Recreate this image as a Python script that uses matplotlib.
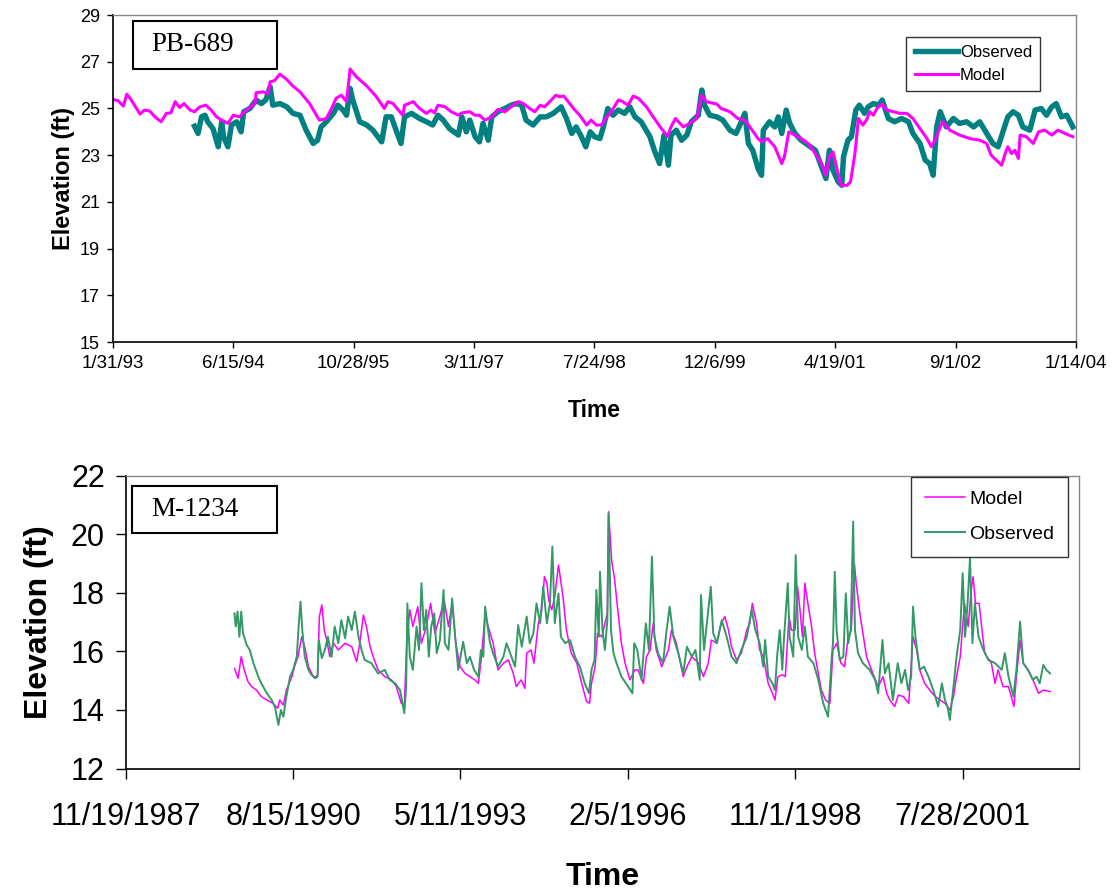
"""Water levels at two wells: simulated heads against measured heads.

Upper panel PB-689 (1993-2004), lower panel M-1234 (1989-2003).
Times are held as decimal years and turned into dates before plotting.
"""

from datetime import datetime, timedelta

import matplotlib

matplotlib.use("Agg")
import matplotlib.pyplot as plt
from matplotlib.patches import Rectangle

# ---- PB-689 -------------------------------------------------------------
PB_MODEL_T = [
    1993.08, 1993.14, 1993.20, 1993.24, 1993.29, 1993.35, 1993.39, 1993.44, 1993.50, 1993.56,
    1993.63, 1993.69, 1993.74, 1993.79, 1993.84, 1993.89, 1993.96, 1994.01, 1994.07, 1994.14,
    1994.20, 1994.26, 1994.32, 1994.39, 1994.45, 1994.52, 1994.60, 1994.66, 1994.70, 1994.71,
    1994.79, 1994.85, 1994.87, 1994.92, 1994.98, 1995.06, 1995.13, 1995.21, 1995.32, 1995.43,
    1995.51, 1995.57, 1995.62, 1995.68, 1995.74, 1995.78, 1995.85, 1995.97, 1996.08, 1996.17,
    1996.21, 1996.27, 1996.33, 1996.38, 1996.40, 1996.50, 1996.57, 1996.65, 1996.70, 1996.74,
    1996.78, 1996.86, 1996.93, 1997.01, 1997.05, 1997.14, 1997.20, 1997.25, 1997.31, 1997.39,
    1997.46, 1997.54, 1997.61, 1997.69, 1997.75, 1997.82, 1997.88, 1997.94, 1997.99, 1998.05,
    1998.12, 1998.16, 1998.21, 1998.26, 1998.32, 1998.39, 1998.47, 1998.52, 1998.58, 1998.64,
    1998.70, 1998.75, 1998.83, 1998.88, 1998.94, 1999.00, 1999.06, 1999.15, 1999.24, 1999.32,
    1999.39, 1999.43, 1999.48, 1999.57, 1999.64, 1999.72, 1999.78, 1999.83, 1999.95, 2000.00,
    2000.10, 2000.19, 2000.27, 2000.34, 2000.42, 2000.46, 2000.53, 2000.61, 2000.69, 2000.72,
    2000.77, 2000.84, 2000.91, 2000.99, 2001.07, 2001.14, 2001.19, 2001.23, 2001.27, 2001.31,
    2001.36, 2001.43, 2001.47, 2001.52, 2001.56, 2001.61, 2001.65, 2001.69, 2001.73, 2001.77,
    2001.83, 2001.88, 2001.96, 2002.03, 2002.11, 2002.18, 2002.26, 2002.34, 2002.39, 2002.45,
    2002.49, 2002.52, 2002.60, 2002.71, 2002.83, 2002.94, 2003.02, 2003.07, 2003.15, 2003.19,
    2003.23, 2003.26, 2003.30, 2003.34, 2003.38, 2003.40, 2003.47, 2003.55, 2003.61, 2003.68,
    2003.76, 2003.83, 2003.91, 2004.00,
]
PB_MODEL_H = [
    25.39, 25.33, 25.10, 25.61, 25.36, 25.00, 24.76, 24.93, 24.89, 24.64,
    24.43, 24.79, 24.81, 25.29, 25.04, 25.21, 24.93, 24.86, 25.07, 25.14,
    24.93, 24.64, 24.50, 24.36, 24.71, 24.64, 24.93, 25.10, 25.21, 25.67,
    25.71, 25.64, 26.14, 26.19, 26.47, 26.24, 25.96, 25.71, 25.21, 24.50,
    24.57, 25.00, 25.43, 25.57, 25.29, 26.69, 26.36, 25.96, 25.50, 25.00,
    25.29, 25.21, 24.93, 24.71, 25.14, 25.29, 25.00, 24.79, 24.93, 24.81,
    25.14, 25.07, 24.86, 24.71, 24.81, 24.86, 24.71, 24.71, 24.50, 24.64,
    24.96, 24.86, 25.07, 25.29, 25.21, 25.00, 24.86, 25.14, 25.07, 25.29,
    25.57, 25.50, 25.53, 25.29, 25.00, 24.71, 24.29, 24.50, 24.29, 24.29,
    24.64, 24.86, 25.36, 25.29, 25.14, 25.53, 25.43, 25.07, 24.57, 24.14,
    23.81, 24.21, 24.57, 24.21, 24.36, 24.57, 25.57, 25.29, 25.19, 25.00,
    24.86, 24.57, 24.50, 24.14, 23.71, 23.57, 23.71, 23.36, 22.64, 22.93,
    24.00, 23.86, 23.71, 23.50, 23.07, 22.64, 22.14, 22.93, 23.14, 22.50,
    21.71, 21.71, 21.86, 23.07, 24.57, 24.29, 24.50, 24.86, 24.71, 25.00,
    25.19, 24.93, 24.86, 24.79, 24.79, 24.57, 24.14, 23.71, 23.36, 23.79,
    24.21, 24.43, 24.07, 23.86, 23.71, 23.64, 23.50, 23.00, 22.71, 22.57,
    23.07, 23.36, 23.07, 23.21, 22.86, 23.86, 23.79, 23.50, 24.00, 24.07,
    23.86, 24.07, 23.93, 23.79,
]
PB_OBS_T = [
    1994.01, 1994.05, 1994.09, 1994.13, 1994.16, 1994.22, 1994.28, 1994.32, 1994.34, 1994.39,
    1994.43, 1994.49, 1994.54, 1994.57, 1994.64, 1994.71, 1994.77, 1994.82, 1994.87, 1994.90,
    1994.98, 1995.06, 1995.13, 1995.21, 1995.28, 1995.36, 1995.41, 1995.45, 1995.51, 1995.59,
    1995.64, 1995.70, 1995.74, 1995.78, 1995.81, 1995.89, 1995.97, 1996.04, 1996.14, 1996.19,
    1996.25, 1996.31, 1996.36, 1996.40, 1996.48, 1996.57, 1996.65, 1996.72, 1996.78, 1996.84,
    1996.91, 1997.01, 1997.05, 1997.10, 1997.14, 1997.20, 1997.25, 1997.29, 1997.35, 1997.39,
    1997.46, 1997.54, 1997.61, 1997.67, 1997.73, 1997.78, 1997.86, 1997.94, 1998.01, 1998.09,
    1998.18, 1998.24, 1998.30, 1998.35, 1998.41, 1998.46, 1998.51, 1998.56, 1998.62, 1998.66,
    1998.71, 1998.77, 1998.83, 1998.90, 1998.96, 1999.02, 1999.09, 1999.19, 1999.24, 1999.30,
    1999.35, 1999.40, 1999.43, 1999.49, 1999.55, 1999.61, 1999.66, 1999.74, 1999.78, 1999.81,
    1999.87, 1999.95, 2000.02, 2000.10, 2000.17, 2000.23, 2000.27, 2000.31, 2000.36, 2000.42,
    2000.46, 2000.48, 2000.55, 2000.61, 2000.65, 2000.69, 2000.74, 2000.78, 2000.84, 2000.91,
    2000.99, 2001.07, 2001.14, 2001.19, 2001.23, 2001.27, 2001.33, 2001.37, 2001.39, 2001.44,
    2001.48, 2001.53, 2001.57, 2001.63, 2001.67, 2001.73, 2001.79, 2001.83, 2001.90, 2001.97,
    2002.05, 2002.13, 2002.18, 2002.26, 2002.32, 2002.37, 2002.41, 2002.45, 2002.49, 2002.56,
    2002.64, 2002.71, 2002.79, 2002.87, 2002.94, 2003.02, 2003.09, 2003.15, 2003.21, 2003.26,
    2003.32, 2003.38, 2003.43, 2003.51, 2003.57, 2003.64, 2003.70, 2003.76, 2003.81, 2003.87,
    2003.93, 2004.00,
]
PB_OBS_H = [
    24.24, 23.93, 24.64, 24.71, 24.43, 24.14, 23.36, 24.43, 23.79, 23.36,
    24.29, 24.43, 24.00, 24.86, 25.00, 25.36, 25.21, 25.36, 25.93, 25.14,
    25.21, 25.07, 24.79, 24.71, 24.07, 23.50, 23.64, 24.21, 24.43, 24.79,
    25.14, 24.93, 24.71, 25.86, 25.36, 24.43, 24.29, 24.07, 23.57, 24.64,
    24.64, 24.00, 23.50, 24.64, 24.79, 24.57, 24.43, 24.29, 24.71, 24.50,
    24.14, 23.86, 24.64, 24.00, 24.50, 23.79, 23.57, 24.36, 23.64, 24.64,
    24.86, 25.00, 25.14, 25.21, 25.14, 24.50, 24.29, 24.64, 24.64, 24.79,
    25.07, 24.57, 23.93, 24.21, 23.79, 23.36, 24.00, 23.79, 23.71, 24.21,
    25.00, 24.71, 24.93, 24.79, 25.07, 24.64, 24.43, 23.79, 23.21, 22.64,
    23.86, 22.57, 23.86, 24.07, 23.64, 23.86, 24.43, 24.71, 25.79, 25.14,
    24.71, 24.64, 24.50, 24.07, 23.93, 24.43, 24.79, 23.50, 23.21, 22.43,
    22.14, 24.07, 24.43, 24.21, 24.64, 23.93, 24.93, 24.36, 23.93, 23.64,
    23.43, 23.21, 22.50, 22.00, 23.21, 22.36, 21.86, 21.71, 22.93, 23.64,
    23.79, 24.93, 25.14, 24.79, 25.07, 25.21, 25.14, 25.36, 24.57, 24.43,
    24.57, 24.43, 23.93, 23.50, 22.79, 22.64, 22.14, 24.21, 24.86, 24.21,
    24.57, 24.36, 24.43, 24.21, 24.43, 23.93, 23.50, 23.36, 24.07, 24.64,
    24.86, 24.71, 24.21, 24.07, 24.93, 25.00, 24.71, 25.07, 25.21, 24.64,
    24.71, 24.21,
]
PB_TICKS = ["1/31/93", "6/15/94", "10/28/95", "3/11/97", "7/24/98",
            "12/6/99", "4/19/01", "9/1/02", "1/14/04"]
PB_YTICKS = [15, 17, 19, 21, 23, 25, 27, 29]

# ---- M-1234 -------------------------------------------------------------
M_MODEL_T = [
    1989.66, 1989.72, 1989.77, 1989.82, 1989.88, 1989.94, 1990.02, 1990.10, 1990.19, 1990.29,
    1990.37, 1990.40, 1990.46, 1990.51, 1990.60, 1990.65, 1990.70, 1990.76, 1990.81, 1990.87,
    1990.95, 1991.02, 1991.05, 1991.09, 1991.13, 1991.17, 1991.22, 1991.28, 1991.36, 1991.47,
    1991.58, 1991.66, 1991.71, 1991.77, 1991.82, 1991.88, 1991.93, 1992.01, 1992.12, 1992.23,
    1992.31, 1992.39, 1992.44, 1992.48, 1992.53, 1992.58, 1992.66, 1992.72, 1992.80, 1992.87,
    1992.94, 1993.02, 1993.09, 1993.16, 1993.22, 1993.28, 1993.35, 1993.43, 1993.51, 1993.59,
    1993.65, 1993.70, 1993.76, 1993.81, 1993.89, 1993.97, 1994.06, 1994.14, 1994.22, 1994.27,
    1994.35, 1994.41, 1994.44, 1994.51, 1994.56, 1994.63, 1994.68, 1994.73, 1994.77, 1994.80,
    1994.85, 1994.90, 1994.96, 1994.98, 1995.04, 1995.09, 1995.17, 1995.26, 1995.34, 1995.42,
    1995.47, 1995.50, 1995.56, 1995.60, 1995.67, 1995.72, 1995.76, 1995.78, 1995.83, 1995.88,
    1995.93, 1995.99, 1996.05, 1996.13, 1996.21, 1996.26, 1996.35, 1996.40, 1996.46, 1996.51,
    1996.56, 1996.65, 1996.76, 1996.81, 1996.89, 1997.00, 1997.06, 1997.14, 1997.25, 1997.33,
    1997.41, 1997.46, 1997.55, 1997.62, 1997.68, 1997.74, 1997.79, 1997.87, 1997.95, 1998.04,
    1998.09, 1998.13, 1998.20, 1998.25, 1998.31, 1998.39, 1998.46, 1998.50, 1998.55, 1998.62,
    1998.67, 1998.73, 1998.77, 1998.83, 1998.87, 1998.91, 1998.95, 1998.99, 1999.04, 1999.10,
    1999.15, 1999.21, 1999.26, 1999.33, 1999.40, 1999.45, 1999.51, 1999.58, 1999.64, 1999.70,
    1999.75, 1999.80, 1999.83, 1999.89, 1999.94, 2000.00, 2000.08, 2000.19, 2000.27, 2000.33,
    2000.38, 2000.46, 2000.52, 2000.60, 2000.69, 2000.76, 2000.82, 2000.87, 2000.95, 2001.03,
    2001.12, 2001.20, 2001.28, 2001.36, 2001.42, 2001.47, 2001.53, 2001.60, 2001.66, 2001.71,
    2001.74, 2001.78, 2001.84, 2001.88, 2001.93, 2002.04, 2002.10, 2002.15, 2002.23, 2002.32,
    2002.41, 2002.45, 2002.51, 2002.56, 2002.64, 2002.72, 2002.81, 2002.89, 2003.00,
]
M_MODEL_H = [
    15.42, 15.08, 15.82, 15.37, 14.97, 14.80, 14.68, 14.46, 14.34, 14.23,
    14.06, 14.34, 14.17, 14.68, 15.14, 15.54, 15.82, 16.50, 16.16, 15.48,
    15.14, 15.14, 17.19, 17.59, 16.73, 16.39, 15.82, 16.28, 16.05, 16.28,
    16.16, 15.65, 16.28, 17.24, 16.85, 16.16, 15.82, 15.37, 15.14, 15.03,
    14.80, 14.23, 14.17, 16.28, 17.42, 16.85, 17.53, 16.28, 16.85, 17.64,
    16.62, 17.19, 17.76, 16.85, 17.64, 16.28, 15.48, 15.25, 15.14, 15.03,
    14.91, 15.82, 17.30, 16.85, 16.28, 15.37, 15.60, 15.71, 15.25, 14.80,
    15.03, 14.74, 15.94, 16.05, 15.60, 16.96, 17.30, 18.55, 18.33, 17.76,
    17.42, 17.87, 18.95, 18.67, 17.76, 16.73, 15.94, 15.60, 14.91, 14.29,
    14.23, 14.91, 15.48, 16.62, 16.50, 16.96, 17.30, 20.77, 19.12, 18.44,
    17.42, 16.28, 15.60, 15.03, 15.37, 15.37, 14.91, 15.82, 16.05, 16.96,
    16.05, 15.48, 16.05, 16.73, 16.28, 15.14, 15.48, 15.82, 15.60, 15.14,
    15.60, 16.39, 16.28, 16.96, 17.19, 16.73, 16.16, 15.71, 15.94, 16.73,
    16.96, 17.64, 16.96, 16.05, 15.82, 14.91, 14.57, 14.34, 15.14, 15.20,
    15.14, 17.19, 16.73, 16.73, 18.21, 17.42, 16.50, 18.33, 17.64, 16.85,
    15.94, 15.25, 14.68, 14.34, 14.23, 16.05, 16.28, 15.60, 15.48, 16.50,
    16.73, 19.01, 18.33, 17.30, 16.62, 15.82, 15.37, 14.80, 15.14, 14.57,
    14.34, 14.12, 14.51, 14.46, 14.23, 16.50, 16.05, 15.37, 14.91, 14.68,
    14.46, 14.34, 14.23, 14.00, 14.46, 15.14, 15.82, 17.64, 16.85, 18.10,
    18.55, 17.64, 17.64, 16.85, 15.94, 15.60, 14.91, 15.37, 14.80, 14.80,
    14.12, 15.14, 16.39, 15.60, 15.37, 15.03, 14.57, 14.68, 14.63,
]
M_OBS_T = [
    1989.66, 1989.68, 1989.71, 1989.74, 1989.77, 1989.80, 1989.86, 1989.91, 1989.97, 1990.05,
    1990.10, 1990.19, 1990.27, 1990.32, 1990.38, 1990.42, 1990.46, 1990.51, 1990.57, 1990.62,
    1990.68, 1990.71, 1990.74, 1990.77, 1990.81, 1990.87, 1990.92, 1990.98, 1991.02, 1991.04,
    1991.09, 1991.14, 1991.19, 1991.25, 1991.30, 1991.36, 1991.41, 1991.47, 1991.52, 1991.58,
    1991.63, 1991.69, 1991.74, 1991.79, 1991.90, 1992.01, 1992.12, 1992.20, 1992.29, 1992.37,
    1992.44, 1992.47, 1992.49, 1992.53, 1992.58, 1992.64, 1992.68, 1992.72, 1992.76, 1992.80,
    1992.84, 1992.88, 1992.93, 1992.97, 1993.02, 1993.08, 1993.10, 1993.16, 1993.22, 1993.27,
    1993.32, 1993.40, 1993.46, 1993.51, 1993.58, 1993.65, 1993.69, 1993.73, 1993.76, 1993.80,
    1993.84, 1993.89, 1993.97, 1994.06, 1994.11, 1994.17, 1994.25, 1994.30, 1994.36, 1994.44,
    1994.49, 1994.55, 1994.60, 1994.66, 1994.71, 1994.77, 1994.82, 1994.86, 1994.90, 1994.96,
    1995.00, 1995.07, 1995.15, 1995.23, 1995.31, 1995.39, 1995.46, 1995.50, 1995.55, 1995.58,
    1995.62, 1995.64, 1995.68, 1995.72, 1995.76, 1995.78, 1995.82, 1995.86, 1995.91, 1995.99,
    1996.10, 1996.17, 1996.20, 1996.25, 1996.32, 1996.39, 1996.44, 1996.49, 1996.53, 1996.59,
    1996.67, 1996.73, 1996.78, 1996.84, 1996.92, 1997.00, 1997.06, 1997.14, 1997.20, 1997.27,
    1997.29, 1997.34, 1997.41, 1997.45, 1997.49, 1997.55, 1997.63, 1997.71, 1997.79, 1997.87,
    1997.95, 1998.04, 1998.12, 1998.18, 1998.25, 1998.31, 1998.34, 1998.39, 1998.46, 1998.50,
    1998.54, 1998.58, 1998.62, 1998.65, 1998.71, 1998.74, 1998.80, 1998.84, 1998.88, 1998.94,
    1998.99, 1999.04, 1999.13, 1999.21, 1999.29, 1999.37, 1999.43, 1999.45, 1999.48, 1999.51,
    1999.56, 1999.62, 1999.66, 1999.70, 1999.74, 1999.78, 1999.81, 1999.86, 1999.94, 2000.05,
    2000.14, 2000.19, 2000.26, 2000.30, 2000.36, 2000.43, 2000.51, 2000.57, 2000.63, 2000.68,
    2000.73, 2000.76, 2000.80, 2000.87, 2000.94, 2001.01, 2001.09, 2001.17, 2001.23, 2001.28,
    2001.32, 2001.36, 2001.42, 2001.47, 2001.53, 2001.57, 2001.61, 2001.65, 2001.69, 2001.73,
    2001.77, 2001.83, 2001.91, 2001.99, 2002.10, 2002.21, 2002.26, 2002.32, 2002.40, 2002.45,
    2002.49, 2002.51, 2002.56, 2002.64, 2002.72, 2002.78, 2002.83, 2002.89, 2002.94, 2003.00,
]
M_OBS_H = [
    17.30, 16.85, 17.36, 16.50, 17.36, 16.62, 16.22, 16.05, 15.60, 15.14,
    14.91, 14.57, 14.34, 14.12, 13.49, 14.00, 13.77, 14.46, 15.14, 15.37,
    15.82, 16.85, 17.70, 16.73, 15.82, 15.37, 15.20, 15.08, 15.14, 16.39,
    15.77, 16.05, 16.50, 15.82, 16.85, 16.28, 17.07, 16.45, 17.19, 16.73,
    17.36, 16.50, 16.05, 15.71, 15.60, 15.25, 15.37, 15.03, 14.91, 14.68,
    13.89, 14.80, 17.64, 15.82, 15.37, 16.85, 16.05, 18.33, 16.73, 17.42,
    15.82, 16.85, 17.30, 15.94, 16.39, 18.10, 16.28, 16.05, 17.81, 16.50,
    15.37, 16.33, 15.60, 15.82, 15.37, 15.14, 16.05, 15.82, 17.53, 16.85,
    16.28, 15.94, 15.48, 15.82, 16.28, 15.94, 15.48, 16.90, 16.16, 17.19,
    16.28, 16.62, 17.64, 16.96, 18.21, 16.96, 17.64, 19.58, 16.96, 17.98,
    16.50, 16.28, 16.39, 15.82, 15.48, 14.91, 14.57, 15.37, 15.71, 18.10,
    16.50, 18.72, 16.73, 16.05, 17.07, 20.71, 16.73, 15.94, 15.60, 15.14,
    14.80, 14.57, 16.28, 16.05, 15.03, 16.96, 16.05, 19.24, 16.50, 15.94,
    15.60, 16.73, 17.53, 16.50, 15.94, 15.25, 16.16, 15.82, 16.05, 15.03,
    17.93, 16.05, 17.42, 18.21, 16.62, 16.28, 17.07, 16.50, 15.82, 15.60,
    16.05, 16.50, 17.42, 16.73, 16.28, 15.48, 16.39, 15.14, 14.91, 14.68,
    15.94, 16.73, 15.37, 16.50, 18.33, 16.50, 15.82, 19.29, 16.50, 16.05,
    16.85, 15.82, 15.60, 15.03, 14.23, 13.77, 15.82, 16.28, 18.72, 16.73,
    15.71, 15.82, 17.98, 16.28, 16.73, 20.43, 16.73, 15.94, 15.60, 15.37,
    15.03, 14.57, 16.39, 15.25, 15.60, 14.34, 15.60, 14.91, 15.37, 14.68,
    15.14, 17.53, 16.50, 15.37, 15.48, 15.14, 14.68, 14.12, 14.91, 14.34,
    14.12, 13.66, 14.80, 15.82, 16.73, 18.67, 16.50, 17.64, 19.18, 16.28,
    17.64, 16.50, 16.05, 15.71, 15.60, 15.37, 15.94, 15.14, 14.46, 15.37,
    16.50, 17.02, 15.60, 15.37, 15.03, 15.14, 14.91, 15.54, 15.37, 15.25,
]
M_TICKS = ["11/19/1987", "8/15/1990", "5/11/1993", "2/5/1996", "11/1/1998", "7/28/2001"]
M_YTICKS = [12, 14, 16, 18, 20, 22]
M_XMAX_DAYS = 5697          # right end of the axis, days after the first tick

TEAL = "#008080"
MAGENTA = "#FF00FF"
SEA_GREEN = "#339966"
FRAME = "#868686"

SANS = ["Liberation Sans", "DejaVu Sans"]
SERIF = ["Liberation Serif", "DejaVu Serif"]


def as_dates(years):
    out = []
    for y in years:
        whole = int(y)
        out.append(datetime(whole, 1, 1) + timedelta(days=(y - whole) * 365.25))
    return out


def frame(ax, tick_len):
    for side in ("top", "right"):
        ax.spines[side].set_color(FRAME)
        ax.spines[side].set_linewidth(1.0)
    for side in ("left", "bottom"):
        ax.spines[side].set_color("black")
        ax.spines[side].set_linewidth(1.2)
    ax.tick_params(direction="out", length=tick_len, width=1.0, top=False, right=False)


def tag(ax, text, x0, y0, x1, y1, size):
    ax.add_patch(Rectangle((x0, y0), x1 - x0, y1 - y0, transform=ax.transAxes,
                           facecolor="white", edgecolor="black", lw=1.5, zorder=5))
    ax.text(x0 + 0.13 * (x1 - x0), (y0 + y1) / 2, text, transform=ax.transAxes,
            family=SERIF, fontsize=size, ha="left", va="center", zorder=6)


fig = plt.figure(figsize=(11.12, 8.94), dpi=100)

# ---- upper panel ----
ax1 = fig.add_axes([0.1016, 0.6174, 0.866, 0.3658])
ax1.plot(as_dates(PB_OBS_T), PB_OBS_H, color=TEAL, lw=3.9, label="Observed",
         solid_joinstyle="round")
ax1.plot(as_dates(PB_MODEL_T), PB_MODEL_H, color=MAGENTA, lw=2.2, label="Model")
ticks1 = [datetime.strptime(s, "%m/%d/%y") for s in PB_TICKS]
ax1.set_xlim(ticks1[0], ticks1[-1])
ax1.set_xticks(ticks1)
ax1.set_xticklabels(PB_TICKS, family=SANS, fontsize=13.5)
ax1.set_ylim(PB_YTICKS[0], PB_YTICKS[-1])
ax1.set_yticks(PB_YTICKS)
ax1.set_yticklabels([str(v) for v in PB_YTICKS], family=SANS, fontsize=13)
frame(ax1, 4.5)
ax1.tick_params(axis="x", pad=5)
ax1.tick_params(axis="y", pad=5)
ax1.set_xlabel("Time", family=SANS, fontsize=16.5, fontweight="bold", labelpad=19)
ax1.set_ylabel("Elevation (ft)", family=SANS, fontsize=17, fontweight="bold", labelpad=3)
leg1 = ax1.legend(loc="upper right", bbox_to_anchor=(0.963, 0.933), borderaxespad=0,
                  frameon=True, fancybox=False, edgecolor="black", handlelength=2.6,
                  prop={"family": SANS, "size": 12}, borderpad=0.5, labelspacing=0.45,
                  handletextpad=0.1)
leg1.get_frame().set_linewidth(1.0)
tag(ax1, "PB-689", 0.0208, 0.835, 0.170, 0.983, 19.5)

# ---- lower panel ----
ax2 = fig.add_axes([0.113, 0.1403, 0.8576, 0.3276])
ax2.plot(as_dates(M_MODEL_T), M_MODEL_H, color=MAGENTA, lw=1.1, label="Model")
ax2.plot(as_dates(M_OBS_T), M_OBS_H, color=SEA_GREEN, lw=1.4, label="Observed")
ticks2 = [datetime.strptime(s, "%m/%d/%Y") for s in M_TICKS]
ax2.set_xlim(ticks2[0], ticks2[0] + timedelta(days=M_XMAX_DAYS))
ax2.set_xticks(ticks2)
ax2.set_xticklabels(M_TICKS, family=SANS, fontsize=22)
ax2.set_ylim(M_YTICKS[0], M_YTICKS[-1])
ax2.set_yticks(M_YTICKS)
ax2.set_yticklabels([str(v) for v in M_YTICKS], family=SANS, fontsize=22)
frame(ax2, 7)
ax2.tick_params(axis="x", pad=17)
ax2.tick_params(axis="y", pad=8)
ax2.set_xlabel("Time", family=SANS, fontsize=23, fontweight="bold", labelpad=22)
ax2.set_ylabel("Elevation (ft)", family=SANS, fontsize=23, fontweight="bold", labelpad=12)
leg2 = ax2.legend(loc="upper right", bbox_to_anchor=(0.988, 0.996), borderaxespad=0,
                  frameon=True, fancybox=False, edgecolor="black", handlelength=2.1,
                  prop={"family": SANS, "size": 14}, borderpad=0.7, labelspacing=0.9,
                  handletextpad=0.2)
leg2.get_frame().set_linewidth(1.0)
tag(ax2, "M-1234", 0.0069, 0.803, 0.159, 0.966, 19.5)

fig.savefig("out.png", dpi=100)
